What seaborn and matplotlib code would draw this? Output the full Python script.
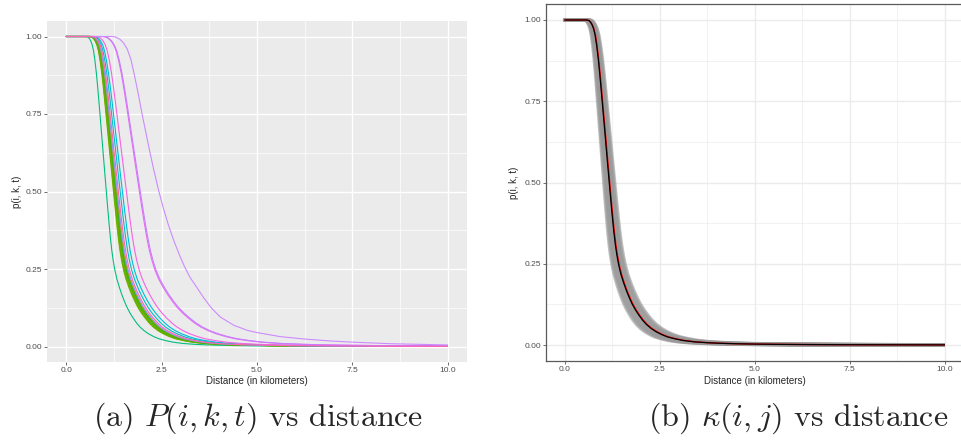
import matplotlib
matplotlib.use("Agg")
import matplotlib.pyplot as plt
from matplotlib.patches import Rectangle
import pandas as pd
import seaborn as sns

# Reference decay profile: distance (km) vs probability, for the central curve
distance_km = [0.0, 0.55, 0.60, 0.64, 0.68, 0.72, 0.76, 0.80, 0.84, 0.88, 0.92,
               0.96, 1.00, 1.04, 1.08, 1.12, 1.17, 1.21, 1.25, 1.29, 1.33, 1.37,
               1.42, 1.48, 1.55, 1.62, 1.70, 1.77, 1.86, 1.95, 2.05, 2.15, 2.27,
               2.40, 2.55, 2.70, 2.90, 3.11, 3.40, 3.75, 4.10, 4.50, 5.00, 5.60,
               6.30, 7.20, 8.30, 10.0]
probability = [1.0, 1.0, 0.9995, 0.998, 0.993, 0.985, 0.973, 0.953, 0.922, 0.883,
               0.836, 0.784, 0.730, 0.676, 0.622, 0.568, 0.501, 0.448, 0.397, 0.350,
               0.310, 0.278, 0.246, 0.217, 0.191, 0.168, 0.145, 0.127, 0.108, 0.092,
               0.076, 0.063, 0.051, 0.041, 0.032, 0.025, 0.019, 0.014, 0.0098, 0.007,
               0.0052, 0.0039, 0.0028, 0.002, 0.0014, 0.0009, 0.0006, 0.0003]

# Panel (a): distance scale of each item's curve relative to the reference profile
item_scales = [0.90, 1.06, 1.07, 1.08, 1.09, 1.10, 1.11, 1.12, 1.13, 1.145,
               1.21, 1.26, 1.35, 1.64, 1.66, 1.17]
item_colors = ["#00BF7D", "#7CAE00", "#64B200", "#53B400", "#8EAB00", "#39B600",
               "#72B000", "#00BA38", "#A3A500", "#9590FF", "#00BFC4", "#00BCD8",
               "#F564E3", "#E76BF3", "#C77CFF", "#FF64B0"]

# Panel (a): the slowest-decaying item, which has its own profile
outer_distance_km = [0.0, 1.20, 1.30, 1.40, 1.50, 1.60, 1.70, 1.79, 1.89, 1.99,
                     2.09, 2.19, 2.30, 2.42, 2.55, 2.68, 2.82, 2.96, 3.10, 3.25,
                     3.40, 3.60, 3.80, 4.04, 4.40, 4.75, 5.00, 5.60, 6.25, 6.90,
                     7.50, 8.50, 10.0]
outer_probability = [1.0, 1.0, 0.998, 0.992, 0.980, 0.960, 0.925, 0.875, 0.815,
                     0.750, 0.690, 0.630, 0.568, 0.505, 0.445, 0.392, 0.342, 0.298,
                     0.258, 0.222, 0.195, 0.158, 0.125, 0.095, 0.068, 0.052, 0.045,
                     0.032, 0.024, 0.018, 0.014, 0.009, 0.005]
outer_color = "#CC8AFF"

# Panel (b): spread of simulated curves, the mean estimate and the fitted curve
band_scales = [0.88, 0.90, 0.92, 0.94, 0.96, 0.98, 1.00, 1.02, 1.04, 1.06,
               1.08, 1.10, 1.12]
estimate_scale = 1.01
fitted_scale = 1.0

x_ticks = [0.0, 2.5, 5.0, 7.5, 10.0]
x_tick_labels = ["0.0", "2.5", "5.0", "7.5", "10.0"]
y_ticks = [0.0, 0.25, 0.5, 0.75, 1.0]
y_tick_labels = ["0.00", "0.25", "0.50", "0.75", "1.00"]
x_max = 10.0


def curves(scales, start=0):
    rows = []
    for k, s in enumerate(scales):
        for d, p in zip(distance_km, probability):
            rows.append((start + k, d * s, p))
    return pd.DataFrame(rows, columns=["curve", "distance", "p"])


def clip_to_range(ax):
    # curves are evaluated on [0, 10] km only
    for line in ax.lines:
        box = Rectangle((-1.0, -1.0), x_max + 1.0, 3.0, transform=ax.transData)
        line.set_clip_path(box)


sns.set_theme(style="white")
plt.rcParams["font.family"] = ["Liberation Sans", "DejaVu Sans"]
plt.rcParams["mathtext.fontset"] = "cm"

W, H = 961, 443
fig = plt.figure(figsize=(W / 100, H / 100), dpi=100)
fig.patch.set_facecolor("white")


def px_axes(left, top, right, bottom):
    return fig.add_axes([left / W, 1 - bottom / H, (right - left) / W, (bottom - top) / H])


def style_axes(ax, face, grid_color, spines):
    ax.set_xlim(-0.5, 10.5)
    ax.set_ylim(-0.05, 1.05)
    ax.set_facecolor(face)
    ax.set_xticks(x_ticks)
    ax.set_xticklabels(x_tick_labels)
    ax.set_yticks(y_ticks)
    ax.set_yticklabels(y_tick_labels)
    ax.set_xticks([1.25, 3.75, 6.25, 8.75], minor=True)
    ax.set_yticks([0.125, 0.375, 0.625, 0.875], minor=True)
    ax.grid(which="major", color=grid_color, lw=1.0)
    ax.grid(which="minor", color=grid_color, lw=0.5)
    ax.set_axisbelow(True)
    ax.tick_params(which="major", length=1.9, width=0.5, color="#333333",
                   labelsize=6, labelcolor="#4D4D4D", pad=1.6,
                   bottom=True, left=True)
    ax.tick_params(which="minor", length=0, bottom=False, left=False)
    for name, sp in ax.spines.items():
        if spines:
            sp.set_visible(True)
            sp.set_color("#5A5A5A")
            sp.set_linewidth(0.9)
        else:
            sp.set_visible(False)
    ax.set_xlabel("")
    ax.set_ylabel("")


# Panel (a): all items except the last one, then the outer item, then the last item
ax1 = px_axes(47, 21, 467, 362)
n_items = len(item_scales)
df_items = curves(item_scales)
outer_id = n_items
df_outer = pd.DataFrame({"curve": outer_id, "distance": outer_distance_km,
                         "p": outer_probability})
df_a = pd.concat([df_items, df_outer], ignore_index=True)
palette_a = {k: c for k, c in enumerate(item_colors)}
palette_a[outer_id] = outer_color
draw_order = list(range(n_items - 1)) + [outer_id, n_items - 1]
sns.lineplot(data=df_a, x="distance", y="p", hue="curve", hue_order=draw_order,
             palette=palette_a, legend=False, sort=False, estimator=None,
             lw=0.8, ax=ax1)
clip_to_range(ax1)
style_axes(ax1, "#EBEBEB", "white", spines=False)

# Panel (b)
ax2 = px_axes(545.7, 3.75, 964, 361.25)
df_band = curves(band_scales)
sns.lineplot(data=df_band, x="distance", y="p", hue="curve",
             palette=["#999999"] * len(band_scales), legend=False, sort=False,
             estimator=None, lw=2.6, alpha=0.6, ax=ax2)
df_est = curves([estimate_scale])
sns.lineplot(data=df_est, x="distance", y="p", color="#FF0000", sort=False,
             estimator=None, lw=1.0, ax=ax2)
df_fit = curves([fitted_scale])
sns.lineplot(data=df_fit, x="distance", y="p", color="black", sort=False,
             estimator=None, lw=0.9, ax=ax2)
clip_to_range(ax2)
style_axes(ax2, "white", "#EBEBEB", spines=True)

# Axis titles
for cx in (257, 755):
    fig.text(cx / W, 1 - 381 / H, "Distance (in kilometers)", fontsize=7,
             ha="center", va="center")
for ylx, cy in [(16.5, 192), (514, 183)]:
    fig.text(ylx / W, 1 - cy / H, "p(i, k, t)", fontsize=7, rotation=90,
             ha="center", va="center")

# Sub-figure captions
fig.text(258 / W, 1 - 418 / H, r"(a) $P(i,k,t)$ vs distance", fontsize=23,
         family="cmr10", ha="center", va="center")
fig.text(798 / W, 1 - 418 / H, r"(b) $\kappa(i,j)$ vs distance", fontsize=23,
         family="cmr10", ha="center", va="center")

fig.savefig("out.png", dpi=100)
